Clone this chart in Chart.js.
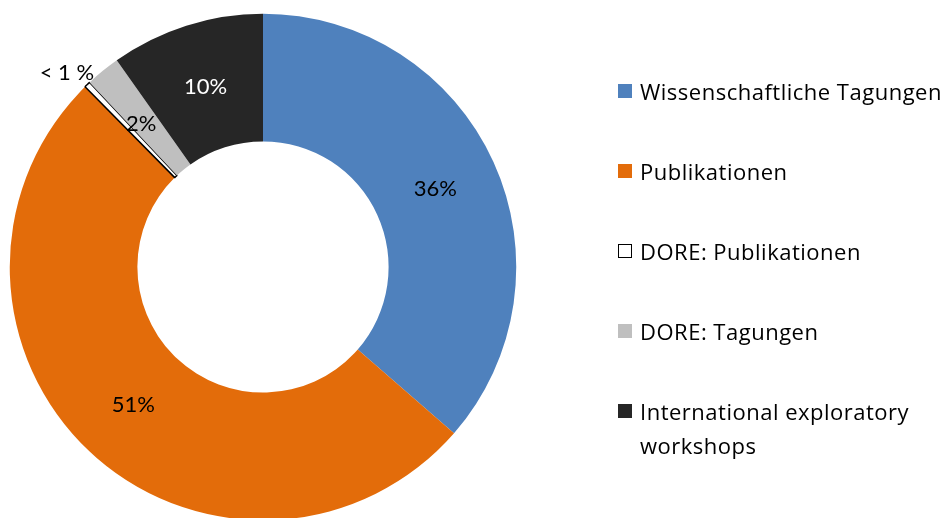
<!DOCTYPE html>
<html>
<head>
<meta charset="utf-8">
<script src="https://cdn.jsdelivr.net/npm/chart.js@4/dist/chart.umd.min.js"></script>
<style>
  body { margin: 0; width: 948px; height: 518px; overflow: hidden; background: #fff; font-family: "Open Sans", Lato, sans-serif; }
  #chart { position: absolute; left: 0; top: 0; }
  #legend { position: absolute; left: 618px; top: 0; }
  .item { position: absolute; left: 0; display: flex; align-items: flex-start; font-size: 22px; letter-spacing: 0.5px; color: #000; line-height: 34px; white-space: nowrap; font-variant-ligatures: none; }
  .box { width: 14px; height: 14px; margin-top: 10px; margin-right: 8px; box-sizing: border-box; flex: none; }
</style>
</head>
<body>
<canvas id="chart" width="948" height="530"></canvas>
<div id="legend"></div>
<script>
// Data
const categories = ['Wissenschaftliche Tagungen', 'Publikationen', 'DORE: Publikationen', 'DORE: Tagungen', 'International exploratory workshops'];
const shares = [36.4, 51.2, 0.4, 2.2, 9.8];
const shareLabels = ['36%', '51%', '< 1 %', '2%', '10%'];
const colors = ['#4F81BD', '#E36C0A', '#FFFFFF', '#BFBFBF', '#262626'];
const labelColors = ['#000', '#000', '#000', '#000', '#fff'];
const legendLines = [['Wissenschaftliche Tagungen'], ['Publikationen'], ['DORE: Publikationen'], ['DORE: Tagungen'], ['International exploratory', 'workshops']];

// Draw percentage labels on the slices
const sliceLabels = {
  id: 'sliceLabels',
  afterDatasetsDraw(chart) {
    const ctx = chart.ctx;
    const meta = chart.getDatasetMeta(0);
    ctx.save();
    ctx.font = '22px Lato, "Open Sans", sans-serif';
    ctx.textAlign = 'center';
    ctx.textBaseline = 'middle';
    meta.data.forEach((arc, i) => {
      const mid = (arc.startAngle + arc.endAngle) / 2;
      let r = (arc.innerRadius + arc.outerRadius) / 2;
      let x = arc.x + Math.cos(mid) * r;
      let y = arc.y + Math.sin(mid) * r;
      if (i === 2) {
        // tiny slice: label sits outside the ring
        r = arc.outerRadius + 18;
        x = arc.x + Math.cos(mid) * r - 8;
        y = arc.y + Math.sin(mid) * r + 1;
      }
      if (i === 3) { x -= 2; y += 4; }
      ctx.fillStyle = labelColors[i];
      ctx.fillText(shareLabels[i], x, y);
    });
    ctx.restore();
  }
};

new Chart(document.getElementById('chart').getContext('2d'), {
  type: 'doughnut',
  data: {
    labels: categories,
    datasets: [{
      data: shares,
      backgroundColor: colors,
      borderColor: ['#000', '#000', '#000', '#000', '#000'],
      borderWidth: [0, 0, 1.5, 0, 0]
    }]
  },
  options: {
    responsive: false,
    animation: false,
    cutout: '49.6%',
    layout: { padding: { left: 9, top: 13, right: 431, bottom: 9 } },
    plugins: {
      legend: { display: false },
      tooltip: { enabled: false }
    }
  },
  plugins: [sliceLabels]
});

// Legend
const legend = document.getElementById('legend');
const itemTops = [74, 154, 234, 314, 394];
categories.forEach((name, i) => {
  const item = document.createElement('div');
  item.className = 'item';
  item.style.top = itemTops[i] + 'px';
  const box = document.createElement('div');
  box.className = 'box';
  box.style.background = colors[i];
  if (i === 2) box.style.border = '1.5px solid #000';
  const text = document.createElement('div');
  text.innerHTML = legendLines[i].join('<br>');
  item.appendChild(box);
  item.appendChild(text);
  legend.appendChild(item);
});
</script>
</body>
</html>
